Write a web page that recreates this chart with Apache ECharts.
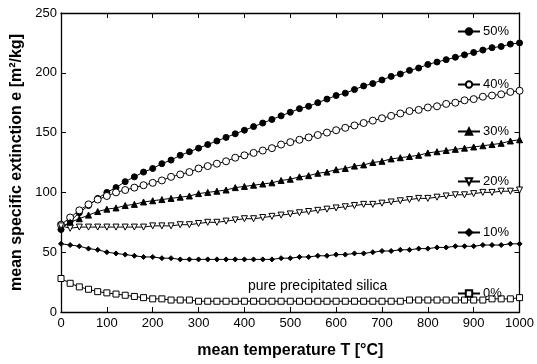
<!DOCTYPE html>
<html>
<head>
<meta charset="utf-8">
<script src="https://cdn.jsdelivr.net/npm/echarts@6/dist/echarts.min.js"></script>
<style>html,body{margin:0;padding:0;background:#fff;}#c{width:537px;height:364px;}</style>
</head>
<body>
<div id="c"></div>
<script>
// Temperatures 0..1000 step 20 (°C)
const temps = [0,20,40,60,80,100,120,140,160,180,200,220,240,260,280,300,320,340,360,380,400,420,440,460,480,500,520,540,560,580,600,620,640,660,680,700,720,740,760,780,800,820,840,860,880,900,920,940,960,980,1000];
const s50 = [69,76,83,89,95,100,104,109,113,117,120,124,127,131,134,137,140,143,146,149,152,155,158,161,164,167,170,172,175,178,181,183,186,189,191,194,197,199,202,204,207,209,211,213,215,217,219,221,222,224,225];
const s40 = [73,79,85,90,94,97,100,102,104,106,108,110,113,115,117,120,122,124,126,129,131,133,135,137,140,142,144,146,148,150,152,154,156,158,160,162,164,166,168,169,171,172,174,175,177,178,180,181,182,184,185];
const s30 = [71,75,78,81,84,86,87,89,90,92,93,94,95,96,97,99,100,101,102,104,105,106,107,108,110,111,113,114,116,117,119,120,122,123,125,126,128,129,130,131,133,134,135,136,137,138,139,140,141,143,144];
const s20 = [72,70,71,71,71,71,71,71,71,71,72,72,72,73,73,74,75,75,76,77,78,78,79,80,81,82,83,84,85,86,87,88,89,90,90,91,92,93,94,95,95,96,97,98,98,99,100,100,101,101,102];
const s10 = [57,56,55,53,52,50,49,48,47,46,46,45,45,44,44,44,44,44,44,44,44,44,44,44,45,45,46,46,47,47,48,48,49,49,50,51,51,52,52,53,53,54,54,55,55,55,56,56,56,57,57];
const s0  = [28,24,21,19,17,16,15,14,13,12,11,11,10,10,10,9,9,9,9,9,9,9,9,9,9,9,9,9,9,9,9,9,9,9,9,9,9,9,10,10,10,10,10,10,10,10,10,11,11,11,12];
const seriesNames = ['50%','40%','30%','20%','10%','0%'];
const xTicks = [0,100,200,300,400,500,600,700,800,900,1000];
const yTicks = [0,50,100,150,200,250];
const annotation = 'pure precipitated silica';

const chart = echarts.init(document.getElementById('c'), null, {renderer:'canvas'});
const pairs = a => temps.map((t,i)=>[t,a[i]]);
const FONT = 'Liberation Sans, Arial, sans-serif';
const mk = (name, data, symbol, size, filled, rotate) => ({
  name, type:'line', data:pairs(data), symbol, symbolSize:size, symbolRotate:rotate||0,
  showAllSymbol:true, animation:false,
  lineStyle:{color:'#000', width:1},
  itemStyle:{color: filled ? '#000' : '#fff', borderColor:'#000', borderWidth:1},
  emphasis:{disabled:true}
});
const legTops = [20,73,120,170,221,282];
const axisBase = {
  min:0, axisLine:{show:true, onZero:false, lineStyle:{color:'#000', width:1.3}},
  axisTick:{show:true, inside:true, length:5, lineStyle:{color:'#000'}},
  splitLine:{show:false}
};
chart.setOption({
  backgroundColor:'#fff',
  animation:false,
  grid:{left:61, right:17, top:13, bottom:52},
  legend: seriesNames.map((n,i)=>({
    data:[n], left:452, top:legTops[i], itemWidth:22, itemHeight:8, itemGap:4,
    textStyle:{fontFamily:FONT, fontSize:13, color:'#000', padding:[0,0,0,-2]}, selectedMode:false
  })),
  xAxis:[
    Object.assign({}, axisBase, {type:'value', max:1000, interval:100, position:'bottom',
      axisLabel:{fontFamily:FONT, fontSize:13, color:'#000', margin:5, formatter:v=>xTicks.includes(v)?String(v):''},
      name:'mean temperature T [°C]', nameLocation:'middle', nameGap:31,
      nameTextStyle:{fontFamily:FONT, fontSize:16, fontWeight:'bold', color:'#000'}}),
    Object.assign({}, axisBase, {type:'value', max:1000, interval:100, position:'top', axisLabel:{show:false}})
  ],
  yAxis:[
    Object.assign({}, axisBase, {type:'value', max:250, interval:50, position:'left',
      axisLabel:{fontFamily:FONT, fontSize:13, color:'#000', margin:4, formatter:v=>yTicks.includes(v)?String(v):''},
      name:'mean specific extinction e [m²/kg]', nameLocation:'middle', nameGap:34,
      nameTextStyle:{fontFamily:FONT, fontSize:16, fontWeight:'bold', color:'#000'}}),
    Object.assign({}, axisBase, {type:'value', max:250, interval:50, position:'right', axisLabel:{show:false}})
  ],
  graphic:[{type:'text', left:248, top:279, style:{text:annotation, font:'14px '+FONT, fill:'#000'}}],
  series:[
    mk('50%', s50, 'circle', 6, true),
    mk('40%', s40, 'circle', 7, false),
    mk('30%', s30, 'triangle', 6, true),
    mk('20%', s20, 'triangle', 6, false, 180),
    mk('10%', s10, 'diamond', 5, true),
    mk('0%',  s0,  'rect', 6, false)
  ]
});
</script>
</body>
</html>
